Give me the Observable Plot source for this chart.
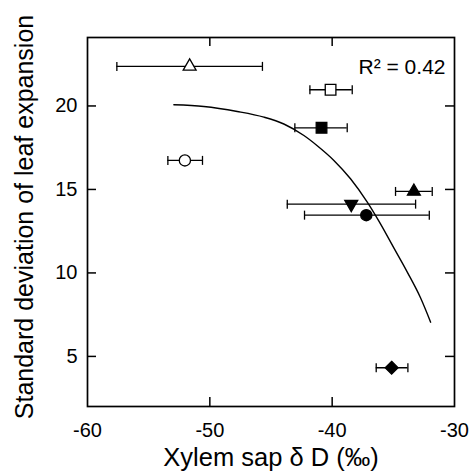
<!DOCTYPE html>
<html>
<head>
<meta charset="utf-8">
<script src="https://cdn.jsdelivr.net/npm/d3@7"></script>
<script src="https://cdn.jsdelivr.net/npm/@observablehq/plot@0.6"></script>
<style>
  html, body { margin: 0; padding: 0; background: #fff; }
</style>
</head>
<body>
<div id="chart"></div>
<script>
// Points (xylem sap δD mean, SD of leaf expansion), with horizontal error limits
const sapD      = [-51.65, -40.13, -40.87, -52.04, -33.32, -38.44, -37.21, -35.14];
const sdLeaf    = [22.37, 20.97, 18.69, 16.74, 14.88, 14.12, 13.46, 4.32];
const sapDLow   = [-57.6, -41.82, -43.05, -53.43, -34.82, -43.67, -42.26, -36.4];
const sapDHigh  = [-45.7, -38.36, -38.77, -50.6, -31.82, -33.18, -32.06, -33.81];
const shape     = ["triangle", "square", "square", "circle", "triangle", "triangleDown", "circle", "diamond"];
const filled    = [false, false, true, false, true, true, true, true];

// Fitted curve
const curveX = [-52.94, -50.49, -47.76, -45.58, -43.95, -42.31, -41.22, -39.86, -38.50, -37.13, -36.18, -34.96, -33.86, -32.77, -31.95];
const curveY = [20.07, 19.97, 19.67, 19.33, 18.92, 18.23, 17.62, 16.74, 15.64, 14.24, 13.10, 11.50, 10.05, 8.50, 7.05];

const xTicks = [-60, -50, -40, -30];
const yTicks = [5, 10, 15, 20];
const xInnerTicks = [-50, -40];
const r2Label = "R² = 0.42";
const xLabel = "Xylem sap δ D (‰)";
const yLabel = "Standard deviation of leaf expansion";

const points = sapD.map((x, i) => ({x, y: sdLeaf[i], lo: sapDLow[i], hi: sapDHigh[i], shape: shape[i], filled: filled[i]}));
const curve = curveX.map((x, i) => ({x, y: curveY[i]}));

const W = 475, H = 472, mL = 87, mR = 21, mT = 37, mB = 66;
const frameW = W - mL - mR, frameH = H - mT - mB;
const tickLen = 9;

const capSymbol = {draw(ctx, size) { const h = Math.sqrt(size / Math.PI); ctx.moveTo(0, -h); ctx.lineTo(0, h); }};
const symbolMap = {triangle: "triangle", square: "square", circle: "circle", triangleDown: "triangle", diamond: "diamond2"};
const sizeMap = {triangle: 4.8, square: 6.0, circle: 5.6, triangleDown: 4.8, diamond: 5.8};

const font = "'Liberation Sans', Arial, Helvetica, sans-serif";

const chart = Plot.plot({
  width: W,
  height: H,
  marginLeft: mL,
  marginRight: mR,
  marginTop: mT,
  marginBottom: mB,
  style: {fontFamily: font, color: "#000", background: "#fff"},
  x: {domain: [-60, -30]},
  y: {domain: [2, 24.1]},
  r: {type: "identity"},
  marks: [
    Plot.frame({stroke: "#000", strokeWidth: 1.7}),
    // inward ticks on all four sides
    Plot.tickX(xInnerTicks, {x: d => d, insetTop: frameH - tickLen, stroke: "#000", strokeWidth: 1.5}),
    Plot.tickX(xInnerTicks, {x: d => d, insetBottom: frameH - tickLen, stroke: "#000", strokeWidth: 1.5}),
    Plot.tickY(yTicks, {y: d => d, insetRight: frameW - tickLen, stroke: "#000", strokeWidth: 1.5}),
    Plot.tickY(yTicks, {y: d => d, insetLeft: frameW - tickLen, stroke: "#000", strokeWidth: 1.5}),
    // tick labels
    Plot.axisX(xTicks, {anchor: "bottom", tickSize: 0, tickPadding: 16, fontSize: 20, label: null, tickFormat: d => d < 0 ? "-" + Math.abs(d) : String(d)}),
    Plot.axisY(yTicks, {anchor: "left", tickSize: 0, tickPadding: 10, fontSize: 20, label: null}),
    // axis titles
    Plot.text([xLabel], {frameAnchor: "bottom", dy: 51, lineAnchor: "middle", textAnchor: "middle", fontSize: 25.5, fill: "#000"}),
    Plot.text([yLabel], {frameAnchor: "left", dx: -63, dy: -5, rotate: -90, lineAnchor: "middle", textAnchor: "middle", fontSize: 25, fill: "#000"}),
    // R² annotation
    Plot.text([r2Label], {frameAnchor: "top-right", dx: -9, dy: 36, lineAnchor: "bottom", textAnchor: "end", fontSize: 21, fill: "#000"}),
    // fitted curve
    Plot.line(curve, {x: "x", y: "y", stroke: "#000", strokeWidth: 1.4, curve: "monotone-x"}),
    // error bars
    Plot.ruleY(points, {y: "y", x1: "lo", x2: "hi", stroke: "#000", strokeWidth: 1.3}),
    Plot.dot(points, {x: "lo", y: "y", symbol: capSymbol, r: 4.5, stroke: "#000", strokeWidth: 1.3, fill: "none"}),
    Plot.dot(points, {x: "hi", y: "y", symbol: capSymbol, r: 4.5, stroke: "#000", strokeWidth: 1.3, fill: "none"}),
    // markers
    Plot.dot(points, {
      x: "x", y: "y",
      symbol: d => symbolMap[d.shape],
      r: d => sizeMap[d.shape],
      rotate: d => d.shape === "triangleDown" ? 180 : 0,
      fill: d => d.filled ? "#000" : "#fff",
      stroke: "#000", strokeWidth: 1.3
    })
  ]
});
document.getElementById("chart").appendChild(chart);
</script>
</body>
</html>
